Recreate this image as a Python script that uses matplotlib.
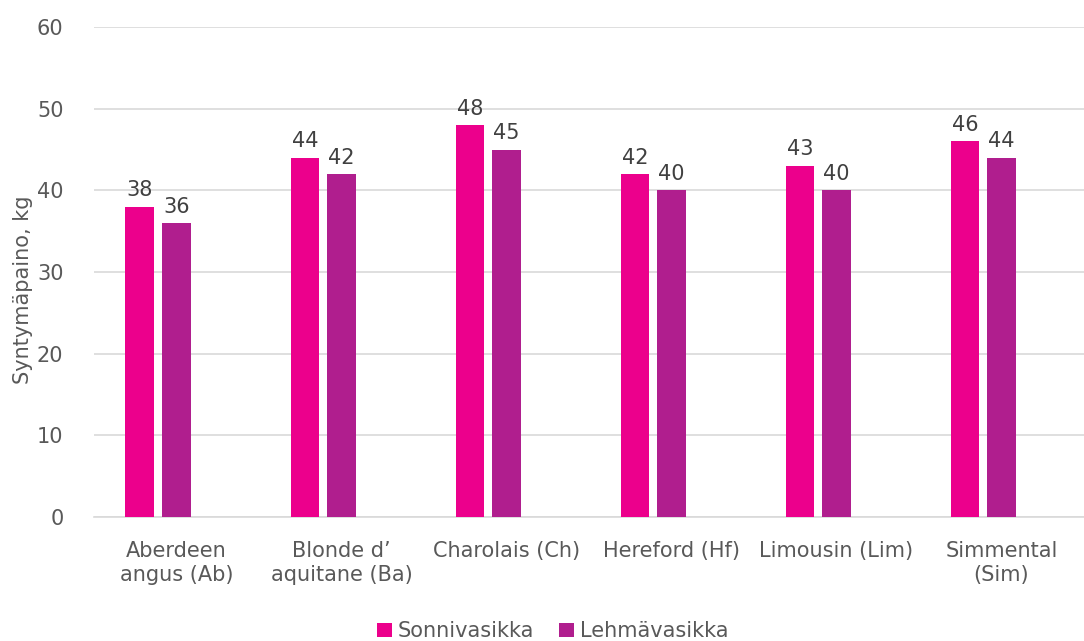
import numpy as np
import matplotlib.pyplot as plt

# Syntymäpaino roduittain, sonni- ja lehmävasikat
rodut = ["Aberdeen\nangus (Ab)", "Blonde d\u2019\naquitane (Ba)", "Charolais (Ch)",
         "Hereford (Hf)", "Limousin (Lim)", "Simmental\n(Sim)"]
sonnit = [38, 44, 48, 42, 43, 46]
lehmat = [36, 42, 45, 40, 40, 44]

pink = "#EC008C"
purple = "#B01E8E"
grey = "#595959"

plt.rcParams['font.family'] = ['DejaVu Sans']

fig = plt.figure(figsize=(10.84, 6.41), dpi=100)
ax = fig.add_axes([0.0867, 0.1934, 0.9133, 0.7644])

x = np.arange(len(rodut))
w = 0.174
b1 = ax.bar(x - 0.222, sonnit, w, color=pink, label="Sonnivasikka", zorder=3)
b2 = ax.bar(x, lehmat, w, color=purple, label="Lehmävasikka", zorder=3)

for bars, vals in ((b1, sonnit), (b2, lehmat)):
    for r, v in zip(bars, vals):
        ax.text(r.get_x() + r.get_width() / 2, v + 0.8, str(v),
                ha="center", va="bottom", fontsize=15, color="#404040")

ax.set_xlim(-0.5, 5.5)
ax.set_ylim(0, 60)
ax.set_yticks(range(0, 61, 10))
ax.set_xticks(x)
ax.set_xticklabels(rodut, fontsize=15, color=grey, linespacing=1.3)
ax.tick_params(axis="y", labelsize=15, colors=grey, length=0, pad=22)
ax.tick_params(axis="x", length=0, pad=17)
ax.grid(axis="y", color="#D9D9D9", linewidth=1.2, zorder=0)
for s in ("top", "right", "left"):
    ax.spines[s].set_visible(False)
ax.spines["bottom"].set_color("#D9D9D9")
ax.spines["bottom"].set_linewidth(1.2)

ax.set_ylabel("Syntymäpaino, kg", fontsize=15, color=grey)
ax.yaxis.set_label_coords(-0.062, 0.463)

fig.legend(loc="lower center", bbox_to_anchor=(0.51, -0.03), ncol=2, frameon=False,
           fontsize=15, handlelength=0.7, handleheight=0.7, handletextpad=0.3,
           columnspacing=1.2, labelcolor=grey)

fig.savefig("out.png", dpi=100)
